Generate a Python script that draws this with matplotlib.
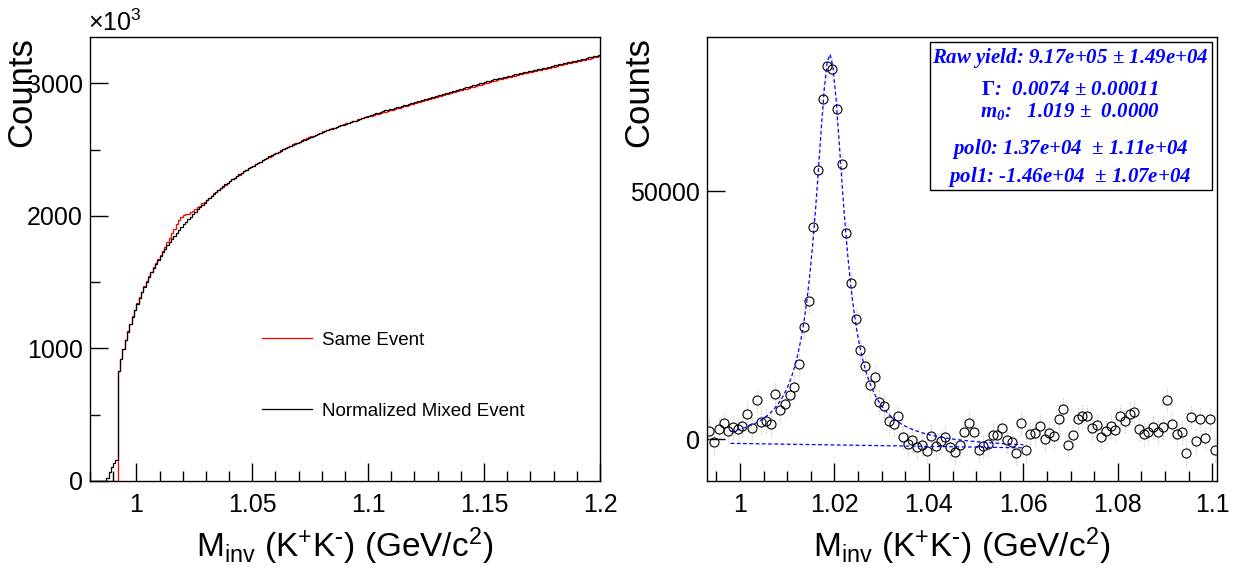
import numpy as np
import matplotlib

matplotlib.use("Agg")
import matplotlib.pyplot as plt
from matplotlib.ticker import MultipleLocator, FuncFormatter

plt.rcParams["font.family"] = ["Liberation Sans", "DejaVu Sans"]
plt.rcParams["mathtext.default"] = "regular"
plt.rcParams["mathtext.fontset"] = "custom"
plt.rcParams["mathtext.rm"] = "Liberation Serif:bold"

# left pad: K+K- invariant mass, 1 MeV bins from 0.98 to 1.20, counts in units of 10^3
mass_lo, mass_hi, mass_bin = 0.98, 1.20, 0.001
mixed_event = np.array([
    0, 0, 0, 0, 0, 0, 0, 20, 70, 107,
    132, 157, 832, 920, 995, 1065, 1128, 1185, 1240, 1290,
    1338, 1383, 1425, 1465, 1503, 1540, 1574, 1607, 1638, 1668,
    1697, 1725, 1752, 1778, 1803, 1827, 1850, 1873, 1895, 1916,
    1937, 1957, 1977, 1996, 2015, 2033, 2051, 2068, 2085, 2101,
    2117, 2133, 2149, 2165, 2180, 2195, 2210, 2224, 2238, 2252,
    2265, 2278, 2290, 2302, 2314, 2326, 2337, 2348, 2359, 2370,
    2380, 2390, 2400, 2410, 2420, 2430, 2440, 2449, 2458, 2467,
    2476, 2485, 2494, 2503, 2512, 2521, 2529, 2537, 2545, 2553,
    2561, 2569, 2577, 2584, 2591, 2598, 2605, 2612, 2619, 2626,
    2633, 2640, 2647, 2654, 2660, 2666, 2672, 2678, 2684, 2690,
    2696, 2702, 2708, 2714, 2720, 2726, 2732, 2738, 2744, 2750,
    2756, 2762, 2768, 2774, 2780, 2786, 2791, 2796, 2801, 2806,
    2811, 2816, 2821, 2826, 2831, 2836, 2841, 2846, 2851, 2856,
    2861, 2866, 2871, 2876, 2881, 2886, 2891, 2896, 2901, 2906,
    2911, 2916, 2920, 2925, 2930, 2935, 2940, 2945, 2950, 2955,
    2960, 2965, 2970, 2975, 2980, 2985, 2990, 2995, 3000, 3005,
    3010, 3015, 3020, 3025, 3030, 3035, 3040, 3044, 3048, 3052,
    3056, 3060, 3064, 3068, 3072, 3076, 3080, 3084, 3088, 3092,
    3096, 3100, 3104, 3108, 3112, 3116, 3120, 3124, 3128, 3132,
    3136, 3140, 3144, 3148, 3152, 3156, 3160, 3164, 3168, 3172,
    3176, 3180, 3184, 3188, 3192, 3196, 3200, 3204, 3208, 3212,
], dtype=float)

# right pad: same - normalized mixed, 1 MeV bins from 0.993 to 1.101
sub_lo = 0.993
signal = np.array([
    1694, -589, 1988, 3166, 1620, 2430, 1988, 2725, 5155, 2209,
    7806, 3461, 3682, 3093, 9058, 5891, 7143, 8910, 10531, 15096,
    22607, 27910, 42785, 54346, 68632, 75260, 74671, 66644, 55524, 41533,
    31444, 24154, 17894, 14654, 10972, 12592, 7511, 6628, 3682, 2946,
    4639, 368, -957, -295, -1620, -1105, -2504, 589, -1473, -368,
    368, -1620, -2651, -1105, 1325, 3314, 1325, -2283, -1473, -957,
    884, 884, 2209, -221, -589, -2798, 3314, -2136, 1105, 1252,
    2577, -74, 1252, 663, 4050, 6038, -1105, 736, 4050, 4639,
    4639, 2136, 2798, 368, 1546, 2577, 1767, 4639, 3682, 5155,
    5523, 1988, 957, 1325, 2430, 1473, 2356, 7953, 3093, 1105,
    1325, -2798, 4418, -368, 4050, 147, 4050, -2209,
], dtype=float)
signal_err = 1500.0

# fit result (Breit-Wigner + pol1)
raw_yield, raw_yield_err = 9.17e5, 1.49e4
gamma, gamma_err = 0.0074, 0.00011
m0, m0_err = 1.019, 0.0
pol0, pol0_err = 1.37e4, 1.11e4
pol1, pol1_err = -1.46e4, 1.07e4
fit_lo, fit_hi = 0.998, 1.06

edges = np.linspace(mass_lo, mass_hi, len(mixed_event) + 1)
first = int(round((sub_lo - mass_lo) / mass_bin))
same_event = mixed_event.copy()
same_event[first:first + len(signal)] += signal / 1000.0
same_event[first + len(signal):] -= 8
same_event[:first - 1] = 0

sub_x = sub_lo + mass_bin * (np.arange(len(signal)) + 0.5)

fig = plt.figure(figsize=(12.46, 5.75), dpi=100)
ax1 = fig.add_axes([0.0722, 0.1635, 0.4093, 0.772])
ax2 = fig.add_axes([0.5674, 0.1635, 0.4093, 0.772])

xlabel = r"M$_{inv}$ (K$^{+}$K$^{\text{-}}$) (GeV/c$^{2}$)"
fmt = FuncFormatter(lambda v, p: f"{v:g}")

# ---- left: same vs mixed
ax1.stairs(same_event, edges, baseline=None, color="red", lw=0.9, label="Same Event")
ax1.stairs(mixed_event, edges, baseline=None, color="black", lw=0.9,
           label="Normalized Mixed Event")
ax1.set_xlim(mass_lo, mass_hi)
ax1.set_ylim(0, 3350)
ax1.xaxis.set_major_locator(MultipleLocator(0.05))
ax1.xaxis.set_minor_locator(MultipleLocator(0.01))
ax1.yaxis.set_major_locator(MultipleLocator(1000))
ax1.yaxis.set_minor_locator(MultipleLocator(500))
ax1.text(-0.004, 1.013, r"$\times$10$^{3}$", transform=ax1.transAxes,
         fontsize=18, ha="left", va="baseline")
ax1.legend(loc="upper left", bbox_to_anchor=(0.337, 0.336), frameon=False,
           fontsize=13.5, handlelength=2.7, handletextpad=0.5, labelspacing=2.85,
           borderpad=0, borderaxespad=0)

# ---- right: subtracted spectrum with fit
gap = 900
ax2.vlines(sub_x, signal + gap, signal + signal_err + gap,
           color="#bbbbbb", lw=0.8, linestyles=":")
ax2.vlines(sub_x, signal - signal_err - gap, signal - gap,
           color="#bbbbbb", lw=0.8, linestyles=":")
ax2.plot(sub_x, signal, "o", mfc="none", mec="black", ms=6.5, mew=0.8)

xf = np.linspace(fit_lo, fit_hi, 101)
bkg = pol0 + pol1 * xf
bw = raw_yield * mass_bin * (gamma / (2 * np.pi)) / ((xf - m0) ** 2 + gamma ** 2 / 4)
ax2.plot(xf, bw + bkg, color="blue", lw=0.9, dashes=(3, 2))
ax2.plot(xf, bkg, color="blue", lw=0.9, dashes=(3, 2))

ax2.set_xlim(sub_lo, 1.101)
ax2.set_ylim(-8470, 81150)
ax2.xaxis.set_major_locator(MultipleLocator(0.02))
ax2.xaxis.set_minor_locator(MultipleLocator(0.005))
ax2.yaxis.set_major_locator(MultipleLocator(50000))

box = plt.Rectangle((0.437, 0.655), 0.554, 0.333, transform=ax2.transAxes,
                    facecolor="white", edgecolor="black", lw=1, zorder=5)
ax2.add_patch(box)
pm = r"$\mathrm{\pm}$"
lines = [
    (0.952, f"Raw yield: {raw_yield:.2e} {pm} {raw_yield_err:.2e}"),
    (0.881, r"$\mathrm{\Gamma}$" + f":  {gamma:.4f} {pm} {gamma_err:.5f}"),
    (0.832, f"m$_{{0}}$:   {m0:.3f} {pm}  {m0_err:.4f}"),
    (0.749, f"pol0: {pol0:.2e}  {pm} {pol0_err:.2e}"),
    (0.685, f"pol1: {pol1:.2e}  {pm} {pol1_err:.2e}"),
]
for yy, txt in lines:
    ax2.text(0.712, yy, txt, transform=ax2.transAxes,
             ha="center", va="center", color="blue", fontsize=15,
             family="Liberation Serif", weight="bold", style="italic", zorder=6)

for ax in (ax1, ax2):
    ax.xaxis.set_major_formatter(fmt)
    ax.yaxis.set_major_formatter(fmt)
    ax.tick_params(which="major", direction="in", length=13, width=1,
                   labelsize=18, top=False, right=False)
    ax.tick_params(axis="x", which="major", pad=9)
    ax.tick_params(axis="y", which="major", pad=5)
    ax.tick_params(which="minor", direction="in", length=7, width=1,
                   top=False, right=False)
    for s in ax.spines.values():
        s.set_linewidth(1)
    ax.set_xlabel(xlabel, fontsize=24, va="baseline")
    ax.xaxis.set_label_coords(0.5, -0.171)
    ax.set_ylabel("Counts", fontsize=25, ha="center", va="top", rotation_mode="default")
    ax.yaxis.set_label_coords(-0.133, 1.0)

fig.savefig("out.png", dpi=100)
